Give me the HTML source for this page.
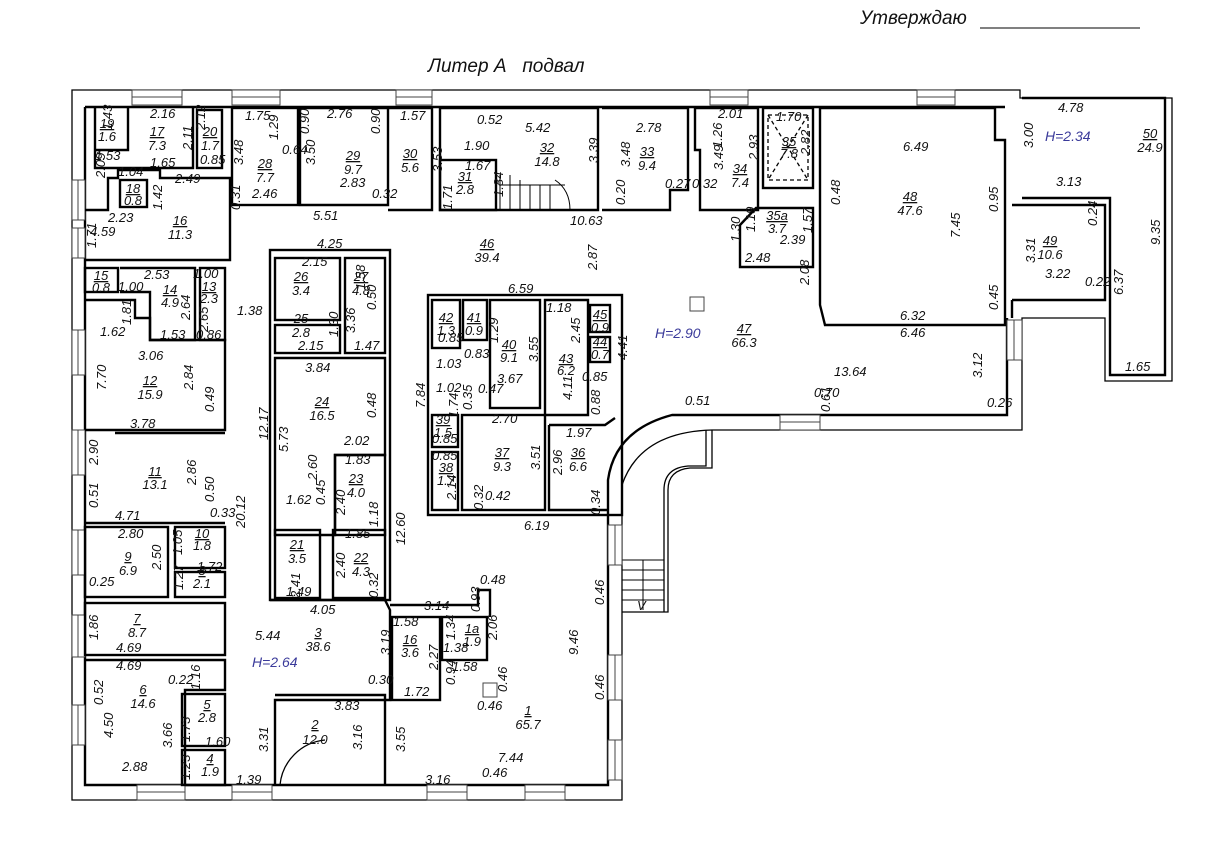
<!DOCTYPE html>
<html><head><meta charset="utf-8"><style>
html,body{margin:0;padding:0;background:#fff;}
svg{display:block}
text{font-family:"Liberation Sans",sans-serif;font-style:italic;font-size:13px;fill:#111;}
.b{fill:#3a3a9a;font-size:14px}
.w{fill:none;stroke:#000;stroke-width:2.4}
.t{fill:none;stroke:#000;stroke-width:1.3}
.g{fill:#fff;stroke:#444;stroke-width:1}
.rn text:nth-child(odd){text-decoration:underline}
</style></head><body>
<svg width="1226" height="841" viewBox="0 0 1226 841" xmlns="http://www.w3.org/2000/svg">
<text x="860" y="24" style="font-size:19px">Утверждаю</text>
<line x1="980" y1="28" x2="1140" y2="28" stroke="#000" stroke-width="1"/>
<text x="428" y="72" style="font-size:19px">Литер А &#160;&#160;подвал</text>

<path class="t" d="M72,90 H1020 V98 H1172 V381 H1105 V318 H1022 V430 H712 Q640,432 622,485 V800 H72 Z"/>
<path class="t" d="M712,430 V468 H690 Q668,470 668,490 V612 H622"/>
<path class="t" d="M706,430 V466 H688 Q664,468 664,490 V612"/>
<g stroke="#000" stroke-width="1"><line x1="622" y1="560" x2="664" y2="560"/><line x1="622" y1="570" x2="664" y2="570"/><line x1="622" y1="580" x2="664" y2="580"/><line x1="622" y1="590" x2="664" y2="590"/><line x1="622" y1="600" x2="664" y2="600"/><line x1="643" y1="560" x2="643" y2="610"/></g>
<text x="637" y="610">V</text>

<path class="w" d="M85,107 H1005 M85,107 V785 H608 V480 Q615,430 672,415 H1007 V318 M1012,318 V300 M1022,98 H1165 V375 H1110 V198 H1022"/>

<g class="g">
<rect x="132" y="90" width="50" height="15"/><rect x="232" y="90" width="48" height="15"/><rect x="396" y="90" width="36" height="15"/><rect x="710" y="90" width="38" height="15"/><rect x="917" y="90" width="38" height="15"/>
<rect x="72" y="180" width="13" height="40"/><rect x="72" y="228" width="13" height="30"/><rect x="72" y="330" width="13" height="45"/><rect x="72" y="430" width="13" height="45"/><rect x="72" y="530" width="13" height="45"/><rect x="72" y="615" width="13" height="42"/><rect x="72" y="705" width="13" height="40"/>
<rect x="137" y="785" width="48" height="15"/><rect x="232" y="785" width="40" height="15"/><rect x="427" y="785" width="40" height="15"/><rect x="525" y="785" width="40" height="15"/><rect x="780" y="415" width="40" height="15"/>
<rect x="608" y="525" width="14" height="40"/><rect x="608" y="655" width="14" height="45"/><rect x="608" y="740" width="14" height="40"/><rect x="1007" y="320" width="15" height="40"/>
</g>
<g stroke="#444" stroke-width="1">
<line x1="132" y1="97" x2="182" y2="97"/><line x1="232" y1="97" x2="280" y2="97"/><line x1="396" y1="97" x2="432" y2="97"/><line x1="710" y1="97" x2="748" y2="97"/><line x1="917" y1="97" x2="955" y2="97"/>
<line x1="78" y1="180" x2="78" y2="220"/><line x1="78" y1="228" x2="78" y2="258"/><line x1="78" y1="330" x2="78" y2="375"/><line x1="78" y1="430" x2="78" y2="475"/><line x1="78" y1="530" x2="78" y2="575"/><line x1="78" y1="615" x2="78" y2="657"/><line x1="78" y1="705" x2="78" y2="745"/>
<line x1="137" y1="792" x2="185" y2="792"/><line x1="232" y1="792" x2="272" y2="792"/><line x1="427" y1="792" x2="467" y2="792"/><line x1="525" y1="792" x2="565" y2="792"/><line x1="780" y1="422" x2="820" y2="422"/>
<line x1="615" y1="525" x2="615" y2="565"/><line x1="615" y1="655" x2="615" y2="700"/><line x1="615" y1="740" x2="615" y2="780"/><line x1="1014" y1="320" x2="1014" y2="360"/>
</g>

<g class="w">
<path d="M95,107 V168 H193 V107"/><path d="M95,150 H128 V107"/>
<rect x="197" y="110" width="25" height="58"/>
<rect x="120" y="180" width="27" height="27"/>
<path d="M85,210 H108 V178 H118 V170 H160 V178 H230 V260 H85"/>
<rect x="232" y="108" width="66" height="97"/>
<path d="M300,108 H388 V205 H300 Z"/>
<path d="M388,108 H432 V210 H388"/>
<path d="M440,108 H598 V210 H440 Z"/><rect x="440" y="160" width="56" height="50"/>
<path d="M602,108 H688 V190 H670 V210 H602"/>
<path d="M695,108 H758 V210 H700 V150 H695 Z"/>
<rect x="763" y="108" width="50" height="80"/>
<path d="M756,208 H813 V267 H740 V225 Z"/>
<path d="M820,108 H995 V140 H1005 V325 H825 L820,305 Z"/>
<path d="M1012,205 H1105 V300 H1012"/>
<rect x="85" y="268" width="33" height="24"/>
<path d="M120,268 H195 V340 H150 V292 H120"/>
<rect x="200" y="268" width="25" height="72"/>
<path d="M85,300 H135 V318 H150 V340 H225 V430 H85"/>
<line x1="115" y1="433" x2="225" y2="433"/>
<path d="M85,523 H225"/>
<rect x="85" y="527" width="83" height="70"/><rect x="175" y="527" width="50" height="41"/><rect x="175" y="572" width="50" height="25"/>
<rect x="85" y="603" width="140" height="52"/>
<path d="M85,660 H225 V690 H185 V785"/><rect x="182" y="694" width="43" height="52"/><rect x="182" y="750" width="43" height="35"/>
<rect x="270" y="250" width="120" height="350"/>
<rect x="275" y="258" width="65" height="62"/><rect x="275" y="325" width="65" height="28"/><rect x="345" y="258" width="40" height="95"/>
<path d="M275,358 H385 V455 H335 V535 H275 Z"/><rect x="335" y="455" width="50" height="80"/>
<rect x="275" y="530" width="45" height="68"/><rect x="333" y="530" width="52" height="68"/>
<path d="M270,600 H385 L390,610 V700 H275 V785"/><path d="M275,695 H385 V785"/>
<rect x="392" y="617" width="48" height="83"/><rect x="442" y="617" width="45" height="43"/>
<path d="M390,605 H478 V590 H490 V617"/>
<rect x="428" y="295" width="194" height="220"/>
<rect x="432" y="300" width="28" height="48"/><rect x="463" y="300" width="24" height="40"/><rect x="490" y="300" width="50" height="108"/>
<path d="M545,300 H588 V415 H545 Z"/><rect x="590" y="305" width="20" height="27"/><rect x="590" y="337" width="20" height="25"/>
<rect x="432" y="415" width="26" height="32"/><rect x="432" y="452" width="26" height="58"/><rect x="462" y="415" width="83" height="95"/>
<path d="M549,425 H605 L615,418 M549,425 V510 H608"/>
</g>
<rect x="690" y="297" width="14" height="14" class="g"/><rect x="483" y="683" width="14" height="14" class="g"/>
<path class="t" d="M280,785 A50,50 0 0 1 325,740"/>
<path class="t" stroke-dasharray="4,3" d="M768,115 H808 V180 H768 Z M768,115 L808,180 M808,115 L768,180"/>
<g stroke="#000" stroke-width="1"><line x1="500" y1="175" x2="500" y2="210"/><line x1="510" y1="175" x2="510" y2="210"/><line x1="520" y1="180" x2="520" y2="210"/><line x1="530" y1="185" x2="530" y2="210"/><line x1="540" y1="185" x2="540" y2="210"/><line x1="550" y1="185" x2="550" y2="210"/><line x1="500" y1="185" x2="565" y2="185"/><path d="M555,180 Q570,190 570,210" fill="none"/></g>

<g class="rn" text-anchor="middle" style="font-size:14px">
<text x="107" y="128">19</text><text x="107" y="141">1.6</text>
<text x="157" y="136">17</text><text x="157" y="150">7.3</text>
<text x="210" y="136">20</text><text x="210" y="150">1.7</text>
<text x="133" y="193">18</text><text x="133" y="205">0.8</text>
<text x="265" y="168">28</text><text x="265" y="182">7.7</text>
<text x="353" y="160">29</text><text x="353" y="174">9.7</text>
<text x="410" y="158">30</text><text x="410" y="172">5.6</text>
<text x="465" y="181">31</text><text x="465" y="194">2.8</text>
<text x="547" y="152">32</text><text x="547" y="166">14.8</text>
<text x="647" y="156">33</text><text x="647" y="170">9.4</text>
<text x="740" y="173">34</text><text x="740" y="187">7.4</text>
<text x="789" y="146">35</text><text x="789" y="158">7.8</text>
<text x="777" y="220">35а</text><text x="777" y="233">3.7</text>
<text x="910" y="201">48</text><text x="910" y="215">47.6</text>
<text x="1050" y="245">49</text><text x="1050" y="259">10.6</text>
<text x="1150" y="138">50</text><text x="1150" y="152">24.9</text>
<text x="180" y="225">16</text><text x="180" y="239">11.3</text>
<text x="487" y="248">46</text><text x="487" y="262">39.4</text>
<text x="301" y="281">26</text><text x="301" y="295">3.4</text>
<text x="361" y="281">27</text><text x="361" y="295">4.8</text>
<text x="101" y="280">15</text><text x="101" y="292">0.8</text>
<text x="170" y="294">14</text><text x="170" y="307">4.9</text>
<text x="209" y="291">13</text><text x="209" y="303">2.3</text>
<text x="301" y="323">25</text><text x="301" y="337">2.8</text>
<text x="446" y="322">42</text><text x="446" y="335">1.3</text>
<text x="474" y="322">41</text><text x="474" y="335">0.9</text>
<text x="509" y="349">40</text><text x="509" y="362">9.1</text>
<text x="600" y="319">45</text><text x="600" y="332">0.9</text>
<text x="600" y="346">44</text><text x="600" y="359">0.7</text>
<text x="566" y="363">43</text><text x="566" y="375">6.2</text>
<text x="744" y="333">47</text><text x="744" y="347">66.3</text>
<text x="150" y="385">12</text><text x="150" y="399">15.9</text>
<text x="322" y="406">24</text><text x="322" y="420">16.5</text>
<text x="443" y="424">39</text><text x="443" y="437">1.5</text>
<text x="502" y="457">37</text><text x="502" y="471">9.3</text>
<text x="578" y="457">36</text><text x="578" y="471">6.6</text>
<text x="446" y="472">38</text><text x="446" y="485">1.7</text>
<text x="356" y="483">23</text><text x="356" y="497">4.0</text>
<text x="155" y="476">11</text><text x="155" y="489">13.1</text>
<text x="202" y="538">10</text><text x="202" y="550">1.8</text>
<text x="128" y="561">9</text><text x="128" y="575">6.9</text>
<text x="297" y="549">21</text><text x="297" y="563">3.5</text>
<text x="361" y="562">22</text><text x="361" y="576">4.3</text>
<text x="202" y="575">8</text><text x="202" y="588">2.1</text>
<text x="137" y="623">7</text><text x="137" y="637">8.7</text>
<text x="318" y="637">3</text><text x="318" y="651">38.6</text>
<text x="410" y="644">16</text><text x="410" y="657">3.6</text>
<text x="472" y="633">1а</text><text x="472" y="646">1.9</text>
<text x="143" y="694">6</text><text x="143" y="708">14.6</text>
<text x="207" y="709">5</text><text x="207" y="722">2.8</text>
<text x="210" y="763">4</text><text x="210" y="776">1.9</text>
<text x="315" y="729">2</text><text x="315" y="744">12.0</text>
<text x="528" y="715">1</text><text x="528" y="729">65.7</text>
</g>
<text class="b" x="1045" y="141">H=2.34</text>
<text class="b" x="655" y="338">H=2.90</text>
<text class="b" x="252" y="667">H=2.64</text>

<g style="font-size:12px">
<text x="150" y="118">2.16</text><text x="95" y="160">1.53</text><text x="150" y="167">1.65</text><text x="118" y="176">1.04</text><text x="175" y="183">2.49</text><text x="200" y="164">0.85</text>
<text x="108" y="222">2.23</text><text x="245" y="120">1.75</text><text x="327" y="118">2.76</text><text x="400" y="120">1.57</text><text x="252" y="198">2.46</text><text x="340" y="187">2.83</text><text x="282" y="154">0.64</text><text x="372" y="198">0.32</text>
<text x="313" y="220">5.51</text><text x="477" y="124">0.52</text><text x="525" y="132">5.42</text><text x="464" y="150">1.90</text><text x="465" y="170">1.67</text><text x="570" y="225">10.63</text>
<text x="636" y="132">2.78</text><text x="718" y="118">2.01</text><text x="776" y="121">1.70</text><text x="665" y="188">0.27</text><text x="692" y="188">0.32</text>
<text x="903" y="151">6.49</text><text x="1058" y="112">4.78</text><text x="1056" y="186">3.13</text><text x="1045" y="278">3.22</text><text x="1085" y="286">0.22</text><text x="780" y="244">2.39</text><text x="745" y="262">2.48</text>
<text x="900" y="320">6.32</text><text x="900" y="337">6.46</text><text x="834" y="376">13.64</text><text x="1125" y="371">1.65</text><text x="814" y="397">0.70</text><text x="685" y="405">0.51</text><text x="987" y="407">0.26</text>
<text x="317" y="248">4.25</text><text x="302" y="266">2.15</text><text x="298" y="350">2.15</text><text x="354" y="350">1.47</text><text x="237" y="315">1.38</text><text x="508" y="293">6.59</text><text x="546" y="312">1.18</text>
<text x="90" y="236">4.59</text><text x="144" y="279">2.53</text><text x="193" y="278">1.00</text><text x="118" y="291">1.00</text><text x="160" y="339">1.53</text><text x="196" y="339">0.86</text><text x="100" y="336">1.62</text>
<text x="138" y="360">3.06</text><text x="130" y="428">3.78</text><text x="115" y="520">4.71</text><text x="210" y="517">0.33</text>
<text x="305" y="372">3.84</text><text x="344" y="445">2.02</text><text x="345" y="464">1.83</text><text x="286" y="504">1.62</text><text x="438" y="342">0.85</text><text x="464" y="358">0.83</text><text x="436" y="368">1.03</text><text x="497" y="383">3.67</text><text x="436" y="392">1.02</text><text x="478" y="393">0.47</text><text x="582" y="381">0.85</text>
<text x="492" y="423">2.70</text><text x="566" y="437">1.97</text><text x="432" y="443">0.85</text><text x="432" y="460">0.85</text><text x="485" y="500">0.42</text><text x="524" y="530">6.19</text>
<text x="118" y="538">2.80</text><text x="89" y="586">0.25</text><text x="197" y="571">1.72</text><text x="116" y="652">4.69</text><text x="116" y="670">4.69</text><text x="168" y="684">0.22</text><text x="122" y="771">2.88</text><text x="205" y="746">1.60</text><text x="236" y="784">1.39</text>
<text x="345" y="538">1.85</text><text x="286" y="596">1.49</text><text x="310" y="614">4.05</text><text x="255" y="640">5.44</text><text x="424" y="610">3.14</text><text x="480" y="584">0.48</text><text x="393" y="626">1.58</text><text x="443" y="652">1.38</text><text x="452" y="671">1.58</text><text x="404" y="696">1.72</text><text x="368" y="684">0.30</text><text x="334" y="710">3.83</text>
<text x="477" y="710">0.46</text><text x="498" y="762">7.44</text><text x="425" y="784">3.16</text><text x="482" y="777">0.46</text>
</g>
<g style="font-size:12px">
<text transform="translate(112,130) rotate(-90)">1.43</text><text transform="translate(192,150) rotate(-90)">2.11</text><text transform="translate(205,130) rotate(-90)">2.12</text><text transform="translate(105,178) rotate(-90)">2.09</text><text transform="translate(162,210) rotate(-90)">1.42</text>
<text transform="translate(243,165) rotate(-90)">3.48</text><text transform="translate(278,140) rotate(-90)">1.29</text><text transform="translate(315,165) rotate(-90)">3.50</text><text transform="translate(309,134) rotate(-90)">0.90</text><text transform="translate(380,134) rotate(-90)">0.90</text><text transform="translate(442,172) rotate(-90)">3.53</text><text transform="translate(240,210) rotate(-90)">0.31</text>
<text transform="translate(598,163) rotate(-90)">3.39</text><text transform="translate(630,167) rotate(-90)">3.48</text><text transform="translate(722,148) rotate(-90)">1.26</text><text transform="translate(723,170) rotate(-90)">3.49</text><text transform="translate(758,160) rotate(-90)">2.93</text><text transform="translate(810,155) rotate(-90)">2.82</text>
<text transform="translate(503,197) rotate(-90)">1.84</text><text transform="translate(452,210) rotate(-90)">1.71</text><text transform="translate(625,205) rotate(-90)">0.20</text><text transform="translate(740,242) rotate(-90)">1.30</text><text transform="translate(755,232) rotate(-90)">1.19</text><text transform="translate(812,233) rotate(-90)">1.57</text><text transform="translate(809,285) rotate(-90)">2.08</text><text transform="translate(840,205) rotate(-90)">0.48</text>
<text transform="translate(960,238) rotate(-90)">7.45</text><text transform="translate(998,212) rotate(-90)">0.95</text><text transform="translate(1033,148) rotate(-90)">3.00</text><text transform="translate(1035,263) rotate(-90)">3.31</text><text transform="translate(1097,226) rotate(-90)">0.24</text><text transform="translate(1160,245) rotate(-90)">9.35</text><text transform="translate(1123,295) rotate(-90)">6.37</text><text transform="translate(998,310) rotate(-90)">0.45</text><text transform="translate(982,378) rotate(-90)">3.12</text>
<text transform="translate(597,270) rotate(-90)">2.87</text><text transform="translate(627,360) rotate(-90)">4.41</text><text transform="translate(498,343) rotate(-90)">1.29</text><text transform="translate(538,362) rotate(-90)">3.55</text><text transform="translate(580,343) rotate(-90)">2.45</text><text transform="translate(572,400) rotate(-90)">4.11</text><text transform="translate(600,415) rotate(-90)">0.88</text>
<text transform="translate(96,248) rotate(-90)">1.71</text><text transform="translate(131,325) rotate(-90)">1.81</text><text transform="translate(190,320) rotate(-90)">2.64</text><text transform="translate(208,332) rotate(-90)">2.65</text><text transform="translate(106,390) rotate(-90)">7.70</text><text transform="translate(193,390) rotate(-90)">2.84</text><text transform="translate(214,412) rotate(-90)">0.49</text>
<text transform="translate(98,465) rotate(-90)">2.90</text><text transform="translate(196,485) rotate(-90)">2.86</text><text transform="translate(98,508) rotate(-90)">0.51</text><text transform="translate(214,502) rotate(-90)">0.50</text><text transform="translate(245,528) rotate(-90)">20.12</text><text transform="translate(268,440) rotate(-90)">12.17</text><text transform="translate(288,452) rotate(-90)">5.73</text>
<text transform="translate(365,290) rotate(-90)">1.58</text><text transform="translate(338,337) rotate(-90)">1.30</text><text transform="translate(355,333) rotate(-90)">3.36</text><text transform="translate(376,310) rotate(-90)">0.50</text><text transform="translate(425,408) rotate(-90)">7.84</text><text transform="translate(376,418) rotate(-90)">0.48</text><text transform="translate(317,480) rotate(-90)">2.60</text><text transform="translate(325,505) rotate(-90)">0.45</text><text transform="translate(345,515) rotate(-90)">2.40</text><text transform="translate(378,527) rotate(-90)">1.18</text><text transform="translate(405,545) rotate(-90)">12.60</text>
<text transform="translate(458,418) rotate(-90)">1.74</text><text transform="translate(472,410) rotate(-90)">0.35</text><text transform="translate(456,500) rotate(-90)">2.14</text><text transform="translate(483,510) rotate(-90)">0.32</text><text transform="translate(540,470) rotate(-90)">3.51</text><text transform="translate(562,475) rotate(-90)">2.96</text><text transform="translate(600,515) rotate(-90)">0.34</text>
<text transform="translate(161,570) rotate(-90)">2.50</text><text transform="translate(182,555) rotate(-90)">1.05</text><text transform="translate(183,590) rotate(-90)">1.27</text><text transform="translate(98,640) rotate(-90)">1.86</text><text transform="translate(200,690) rotate(-90)">1.16</text><text transform="translate(103,705) rotate(-90)">0.52</text><text transform="translate(113,738) rotate(-90)">4.50</text><text transform="translate(172,748) rotate(-90)">3.66</text><text transform="translate(190,742) rotate(-90)">1.73</text><text transform="translate(190,780) rotate(-90)">1.23</text>
<text transform="translate(300,598) rotate(-90)">2.41</text><text transform="translate(345,578) rotate(-90)">2.40</text><text transform="translate(378,598) rotate(-90)">0.32</text><text transform="translate(390,655) rotate(-90)">3.19</text><text transform="translate(268,752) rotate(-90)">3.31</text><text transform="translate(362,750) rotate(-90)">3.16</text><text transform="translate(405,752) rotate(-90)">3.55</text>
<text transform="translate(480,612) rotate(-90)">0.93</text><text transform="translate(497,640) rotate(-90)">2.06</text><text transform="translate(455,640) rotate(-90)">1.34</text><text transform="translate(438,670) rotate(-90)">2.27</text><text transform="translate(455,685) rotate(-90)">0.94</text><text transform="translate(507,692) rotate(-90)">0.46</text><text transform="translate(578,655) rotate(-90)">9.46</text><text transform="translate(604,700) rotate(-90)">0.46</text><text transform="translate(604,605) rotate(-90)">0.46</text><text transform="translate(830,412) rotate(-90)">0.61</text>
</g>
</svg>
</body></html>
